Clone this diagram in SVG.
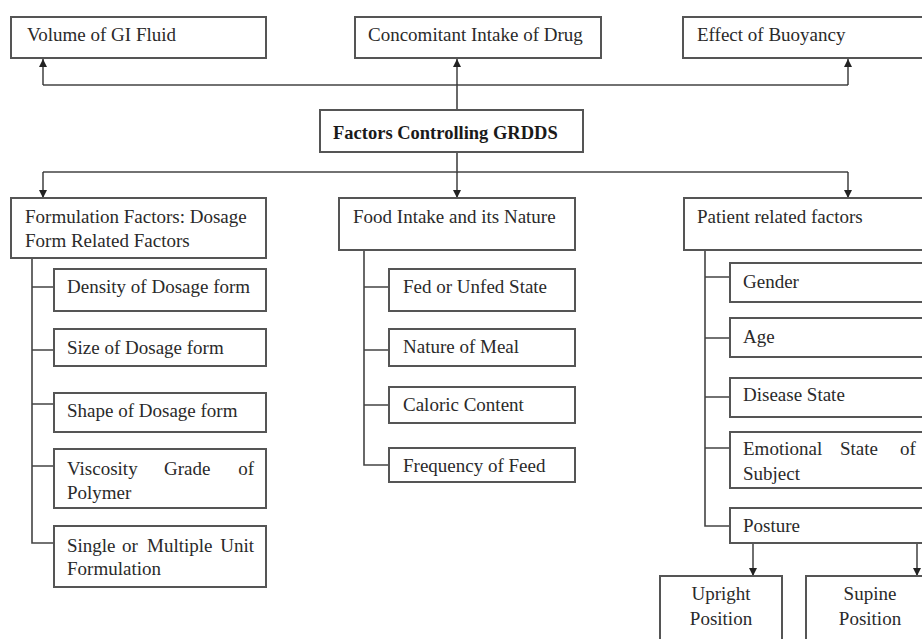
<svg xmlns="http://www.w3.org/2000/svg" width="922" height="639" viewBox="0 0 922 639">
<defs>
<marker id="ah" viewBox="0 0 10 10" refX="10" refY="5" markerWidth="8" markerHeight="8" markerUnits="userSpaceOnUse" orient="auto">
<path d="M0,0 L10,5 L0,10 z" fill="#222"/>
</marker>
<style>
.b{fill:#fff;stroke:#555;stroke-width:2}
.t{font-family:"Liberation Serif",serif;font-size:19px;fill:#2a2a2a}
.bt{font-family:"Liberation Serif",serif;font-size:18.5px;font-weight:bold;fill:#1a1a1a}
.c{fill:none;stroke:#444;stroke-width:1.6}
.a{fill:none;stroke:#333;stroke-width:1.4;marker-end:url(#ah)}
</style>
</defs>
<rect width="922" height="639" fill="#fff"/>
<g id="connectors">
<path class="c" d="M457,110 V85 M43,85 H848"/>
<path class="a" d="M43,85 V59"/>
<path class="a" d="M457,85 V59"/>
<path class="a" d="M848,85 V59"/>
<path class="c" d="M457,152 V172 M43,172 H848"/>
<path class="a" d="M43,172 V198"/>
<path class="a" d="M457,172 V198"/>
<path class="a" d="M848,172 V198"/>
<path class="c" d="M32,258 V543 H54 M32,287 H54 M32,350 H54 M32,404 H54 M32,466 H54"/>
<path class="c" d="M364,250 V465 H389 M364,287 H389 M364,350 H389 M364,405 H389"/>
<path class="c" d="M705,250 V526 H730 M705,277 H730 M705,338 H730 M705,397 H730 M705,448 H730"/>
<path class="a" d="M753,543 V576"/>
<path class="a" d="M917,543 V576"/>
</g>
<g id="n-volume"><rect class="b" x="11" y="17" width="255" height="41"/><text class="t" x="27" y="41">Volume of GI Fluid</text></g>
<g id="n-concomitant"><rect class="b" x="355" y="17" width="246" height="41"/><text class="t" x="368" y="41">Concomitant Intake of Drug</text></g>
<g id="n-buoyancy"><rect class="b" x="683" y="17" width="250" height="41"/><text class="t" x="697" y="41">Effect of Buoyancy</text></g>
<g id="n-root"><rect class="b" x="320" y="110" width="263" height="42"/><text class="bt" x="333" y="139">Factors Controlling GRDDS</text></g>
<g id="n-formulation"><rect class="b" x="11" y="198" width="255" height="60"/><text class="t" x="25" y="223">Formulation Factors: Dosage</text><text class="t" x="25" y="247">Form Related Factors</text></g>
<g id="n-density"><rect class="b" x="54" y="269" width="212" height="42"/><text class="t" x="67" y="293">Density of Dosage form</text></g>
<g id="n-size"><rect class="b" x="54" y="329" width="212" height="37"/><text class="t" x="67" y="354">Size of Dosage form</text></g>
<g id="n-shape"><rect class="b" x="54" y="393" width="212" height="39"/><text class="t" x="67" y="417">Shape of Dosage form</text></g>
<g id="n-viscosity"><rect class="b" x="54" y="449" width="212" height="59"/><text class="t" y="475"><tspan x="67">Viscosity</tspan><tspan x="164">Grade</tspan><tspan x="254" text-anchor="end">of</tspan></text><text class="t" x="67" y="499">Polymer</text></g>
<g id="n-single"><rect class="b" x="54" y="526" width="212" height="61"/><text class="t" y="552"><tspan x="67">Single</tspan><tspan x="122">or</tspan><tspan x="147">Multiple</tspan><tspan x="254" text-anchor="end">Unit</tspan></text><text class="t" x="67" y="575">Formulation</text></g>
<g id="n-food"><rect class="b" x="339" y="198" width="236" height="52"/><text class="t" x="353" y="223">Food Intake and its Nature</text></g>
<g id="n-fed"><rect class="b" x="389" y="269" width="186" height="42"/><text class="t" x="403" y="293">Fed or Unfed State</text></g>
<g id="n-meal"><rect class="b" x="389" y="329" width="186" height="37"/><text class="t" x="403" y="353">Nature of Meal</text></g>
<g id="n-caloric"><rect class="b" x="389" y="387" width="186" height="36"/><text class="t" x="403" y="411">Caloric Content</text></g>
<g id="n-frequency"><rect class="b" x="389" y="448" width="186" height="34"/><text class="t" x="403" y="472">Frequency of Feed</text></g>
<g id="n-patient"><rect class="b" x="684" y="198" width="250" height="52"/><text class="t" x="697" y="223">Patient related factors</text></g>
<g id="n-gender"><rect class="b" x="730" y="263" width="200" height="39"/><text class="t" x="743" y="288">Gender</text></g>
<g id="n-age"><rect class="b" x="730" y="318" width="200" height="39"/><text class="t" x="743" y="343">Age</text></g>
<g id="n-disease"><rect class="b" x="730" y="378" width="200" height="39"/><text class="t" x="743" y="401">Disease State</text></g>
<g id="n-emotional"><rect class="b" x="730" y="432" width="200" height="56"/><text class="t" y="455"><tspan x="743">Emotional</tspan><tspan x="840">State</tspan><tspan x="900">of</tspan></text><text class="t" x="743" y="480">Subject</text></g>
<g id="n-posture"><rect class="b" x="730" y="508" width="200" height="35"/><text class="t" x="743" y="532">Posture</text></g>
<g id="n-upright"><rect class="b" x="660" y="576" width="122" height="80"/><text class="t" x="721" y="600" text-anchor="middle">Upright</text><text class="t" x="721" y="625" text-anchor="middle">Position</text></g>
<g id="n-supine"><rect class="b" x="806" y="576" width="130" height="80"/><text class="t" x="870" y="600" text-anchor="middle">Supine</text><text class="t" x="870" y="625" text-anchor="middle">Position</text></g>
</svg>
